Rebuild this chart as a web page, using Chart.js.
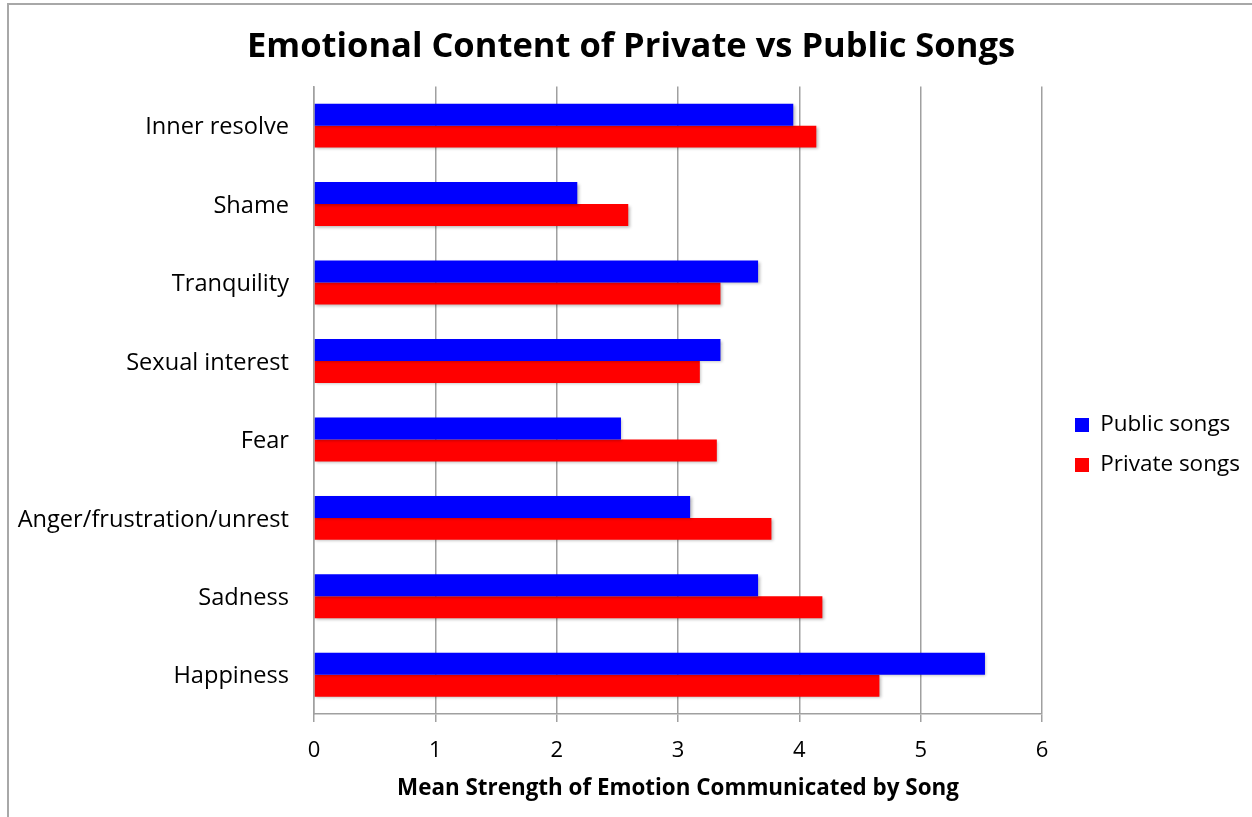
<!DOCTYPE html>
<html>
<head>
<meta charset="utf-8">
<script src="https://cdn.jsdelivr.net/npm/chart.js@4.4.1/dist/chart.umd.min.js"></script>
<style>
  html, body { margin: 0; padding: 0; background: #fff; }
  #wrap { position: relative; width: 1252px; height: 817px; overflow: hidden; }
  #c { position: absolute; left: 0; top: 0; }
  .bt { position: absolute; left: 8px; top: 3px; width: 1244px; height: 2px; background: #a8a8a8; }
  .bl { position: absolute; left: 7px; top: 3px; width: 2px; height: 814px; background: #a8a8a8; }
</style>
</head>
<body>
<div id="wrap">
  <canvas id="c" width="1252" height="817"></canvas>
  <div class="bt"></div>
  <div class="bl"></div>
</div>
<script>
const categories = ['Inner resolve', 'Shame', 'Tranquility', 'Sexual interest', 'Fear', 'Anger/frustration/unrest', 'Sadness', 'Happiness'];
const publicSongs = [3.95, 2.17, 3.66, 3.35, 2.53, 3.10, 3.66, 5.53];
const privateSongs = [4.14, 2.59, 3.35, 3.18, 3.32, 3.77, 4.19, 4.66];
const seriesNames = ['Public songs', 'Private songs'];
const xTicks = [0, 1, 2, 3, 4, 5, 6];

const FONT = '"Open Sans"';
const LEG_FONT = 22.5, LEG_BOX = 14, LEG_PAD = 17.5;
const PLOT_LEFT = 314, PLOT_RIGHT = 1042, W = 1252, H = 817, PLOT_BOTTOM = 714;
const LEG_BOX_X = 1075, LEG_FIRST_Y = 425;
const padRight = 0;
const padLeft = 10;

const shadowPlugin = {
  id: 'barShadow',
  beforeDatasetsDraw(chart) {
    const ctx = chart.ctx;
    ctx.save();
    ctx.shadowColor = 'rgba(0,0,0,0.28)';
    ctx.shadowBlur = 3;
    ctx.shadowOffsetX = 1.5;
    ctx.shadowOffsetY = 1.5;
  },
  afterDatasetsDraw(chart) { chart.ctx.restore(); }
};

// fix legend width so plot area ends exactly at PLOT_RIGHT, then move legend into place
const legendPlace = {
  id: 'legendPlace',
  beforeLayout(chart) {
    const l = chart.legend;
    if (l && !l._fixedFit) {
      const orig = l.fit;
      l.fit = function () {
        orig.call(this);
        this.width = W - PLOT_RIGHT - padRight;
      };
      l._fixedFit = true;
    }
  },
  afterLayout(chart) {
    const l = chart.legend;
    const dx = LEG_BOX_X - LEG_PAD - l.left;
    l.left += dx; l.right += dx;
    const colH = l.columnSizes && l.columnSizes[0] ? l.columnSizes[0].height : 0;
    const itemH = Math.max(LEG_FONT, LEG_BOX);
    const cursorY = (l.top + LEG_PAD + l.bottom - colH) / 2;
    const dy = LEG_FIRST_Y - (cursorY + itemH / 2);
    l.top += dy; l.bottom += dy;
  }
};

Chart.defaults.font.family = FONT;
Chart.defaults.color = '#000';

new Chart(document.getElementById('c'), {
  type: 'bar',
  data: {
    labels: categories,
    datasets: [
      { label: seriesNames[0], data: publicSongs, backgroundColor: '#0000FF', borderWidth: 0 },
      { label: seriesNames[1], data: privateSongs, backgroundColor: '#FF0000', borderWidth: 0 }
    ]
  },
  options: {
    indexAxis: 'y',
    responsive: false,
    animation: false,
    devicePixelRatio: 1,
    categoryPercentage: 0.56,
    barPercentage: 1.0,
    layout: { padding: { left: padLeft, right: padRight, top: 0, bottom: 0 } },
    scales: {
      x: {
        min: 0, max: 6,
        afterBuildTicks(scale) { scale.ticks = xTicks.map(v => ({ value: v })); },
        afterFit(scale) { scale.height = H - PLOT_BOTTOM; },
        grid: { color: '#a0a0a0', lineWidth: 1.5, drawTicks: true, tickLength: 8 },
        border: { color: '#a0a0a0', width: 1.5 },
        ticks: { font: { size: 22 }, color: '#000', padding: 16 },
        title: {
          display: true,
          text: 'Mean Strength of Emotion Communicated by Song',
          font: { size: 22.4, weight: 'bold' },
          color: '#000',
          padding: { top: 0, bottom: 15 }
        }
      },
      y: {
        afterFit(scale) { scale.width = PLOT_LEFT - padLeft; },
        grid: { display: false, drawTicks: false },
        border: { color: '#a0a0a0', width: 1.5 },
        ticks: { font: { size: 23.6 }, color: '#000', padding: 25, labelOffset: 2 }
      }
    },
    plugins: {
      title: {
        display: true,
        text: 'Emotional Content of Private vs Public Songs',
        font: { size: 34.5, weight: 'bold' },
        color: '#000',
        padding: { top: 26, bottom: 19 }
      },
      legend: {
        position: 'right',
        align: 'center',
        labels: {
          font: { size: LEG_FONT },
          color: '#000',
          boxWidth: LEG_BOX,
          boxHeight: LEG_BOX,
          padding: LEG_PAD
        }
      },
      tooltip: { enabled: false }
    }
  },
  plugins: [shadowPlugin, legendPlace]
});
</script>
</body>
</html>
